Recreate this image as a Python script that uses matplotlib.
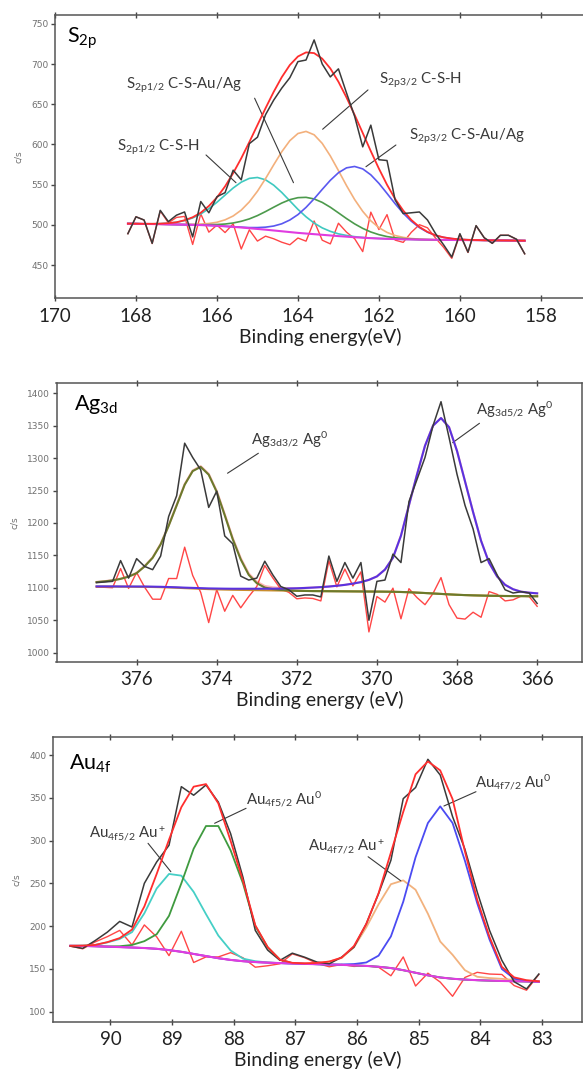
import matplotlib
matplotlib.use("Agg")
import matplotlib.pyplot as plt
import numpy as np

plt.rcParams["font.family"] = ["Lato", "DejaVu Sans"]
plt.rcParams["mathtext.fontset"] = "custom"
plt.rcParams["mathtext.rm"] = "Lato"
plt.rcParams["mathtext.it"] = "Lato:italic"
plt.rcParams["mathtext.bf"] = "Lato:bold"

# ---------------- S 2p ----------------
s_energy = [168.2, 168.0, 167.8, 167.6, 167.4, 167.2, 167.0, 166.8, 166.6, 166.4,
            166.2, 166.0, 165.8, 165.6, 165.4, 165.2, 165.0, 164.8, 164.6, 164.4,
            164.2, 164.0, 163.8, 163.6, 163.4, 163.2, 163.0, 162.8, 162.6, 162.4,
            162.2, 162.0, 161.8, 161.6, 161.4, 161.2, 161.0, 160.8, 160.6, 160.4,
            160.2, 160.0, 159.8, 159.6, 159.4, 159.2, 159.0, 158.8, 158.6, 158.4]
s_counts = [489, 510, 506, 477, 518, 504, 512, 516, 485, 529,
            515, 535, 540, 568, 556, 601, 609, 637, 655, 670,
            683, 703, 705, 730, 700, 684, 694, 664, 635, 597,
            624, 581, 580, 531, 514, 515, 516, 506, 489, 475,
            460, 489, 466, 499, 484, 477, 487, 487, 482, 464]
s_background = [501.5, 501.4, 501.2, 501.0, 500.8, 500.6, 500.4, 500.2, 500.0, 499.7,
                499.3, 498.8, 498.2, 497.5, 496.7, 495.8, 494.9, 494.0, 493.0, 492.0,
                491.0, 490.0, 489.2, 488.4, 487.6, 486.8, 486.0, 485.3, 484.6, 484.0,
                483.4, 483.0, 482.6, 482.3, 482.0, 481.8, 481.6, 481.5, 481.4, 481.3,
                481.2, 481.1, 481.0, 480.9, 480.8, 480.7, 480.6, 480.5, 480.4, 480.3]
# component intensities above the background
s_2p12_csh = [0, 0, 0.1, 0.3, 0.7, 1.5, 2.8, 5.1, 8.6, 13.8,
              20.8, 29.3, 38.8, 48.3, 56.4, 62.0, 64.0, 62.0, 56.4, 48.3,
              38.8, 29.3, 20.8, 13.8, 8.6, 5.1, 2.8, 1.5, 0.7, 0.3,
              0.1] + [0] * 19
s_2p32_csh = [0] * 7 + [0.3, 0.6, 1.2, 2.4, 4.4, 8.0, 13.5, 21.6, 32.8, 46.9,
                        63.5, 81.5, 98.9, 113.7, 123.6, 127.0, 123.6, 113.7, 98.9, 81.5,
                        63.5, 46.9, 32.8, 21.6, 13.5, 8.0, 4.4, 2.4, 1.2, 0.6,
                        0.3] + [0] * 12
s_2p12_csau = [0] * 7 + [0.1, 0.2, 0.4, 0.9, 1.6, 2.8, 4.8, 7.7, 11.6, 16.6,
                         22.5, 28.9, 35.1, 40.3, 43.8, 45.0, 43.8, 40.3, 35.1, 28.9,
                         22.5, 16.6, 11.6, 7.7, 4.8, 2.8, 1.6, 0.9, 0.4, 0.2,
                         0.1] + [0] * 12
s_2p32_csau = [0] * 13 + [0.2, 0.4, 0.8, 1.7, 3.1, 5.5, 9.3, 15.0, 22.7, 32.5,
                          44.0, 56.5, 68.6, 78.8, 85.6, 88.0, 85.6, 78.8, 68.6, 56.5,
                          44.0, 32.5, 22.7, 15.0, 9.3, 5.5, 3.1, 1.7, 0.8, 0.4,
                          0.2] + [0] * 6

# ---------------- Ag 3d ----------------
ag_energy = [377.0, 376.8, 376.6, 376.4, 376.2, 376.0, 375.8, 375.6, 375.4, 375.2,
             375.0, 374.8, 374.6, 374.4, 374.2, 374.0, 373.8, 373.6, 373.4, 373.2,
             373.0, 372.8, 372.6, 372.4, 372.2, 372.0, 371.8, 371.6, 371.4, 371.2,
             371.0, 370.8, 370.6, 370.4, 370.2, 370.0, 369.8, 369.6, 369.4, 369.2,
             369.0, 368.8, 368.6, 368.4, 368.2, 368.0, 367.8, 367.6, 367.4, 367.2,
             367.0, 366.8, 366.6, 366.4, 366.2, 366.0]
ag_counts = [1108, 1109, 1110, 1142, 1115, 1145, 1133, 1128, 1149, 1210,
             1242, 1323, 1301, 1282, 1224, 1249, 1180, 1168, 1118, 1112,
             1115, 1141, 1120, 1102, 1097, 1087, 1089, 1089, 1086, 1149,
             1110, 1139, 1115, 1139, 1050, 1110, 1112, 1152, 1139, 1233,
             1267, 1301, 1350, 1387, 1332, 1275, 1227, 1191, 1139, 1145,
             1120, 1097, 1092, 1094, 1092, 1076]
ag_background = [1102.0, 1102.0, 1101.9, 1101.8, 1101.7, 1101.6, 1101.5, 1101.3, 1101.0, 1100.6,
                 1100.1, 1099.5, 1099.0, 1098.5, 1098.0, 1097.6, 1097.3, 1097.0, 1096.8, 1096.6,
                 1096.4, 1096.2, 1096.0, 1095.8, 1095.6, 1095.4, 1095.2, 1095.0, 1094.9, 1094.8,
                 1094.7, 1094.6, 1094.5, 1094.4, 1094.3, 1094.2, 1094.1, 1093.9, 1093.6, 1093.2,
                 1092.6, 1092.0, 1091.3, 1090.6, 1089.9, 1089.3, 1088.8, 1088.4, 1088.1, 1087.8,
                 1087.6, 1087.4, 1087.3, 1087.2, 1087.1, 1087.0]
ag_3d32 = [6.8, 8.0, 9.5, 12.0, 15.5, 21.0, 31.5, 45.0, 66.0, 95.0,
           127.0, 159.5, 181.0, 188.0, 176.5, 150.4, 114.7, 78.0, 47.0, 23.4,
           10.8, 4.2, 2.0, 1.0, 0.5] + [0] * 31
ag_3d52 = [0.2, 0.2, 0.3, 0.3, 0.4, 0.4, 0.5, 0.5, 0.6, 0.6,
           0.7, 0.8, 0.9, 1.0, 1.1, 1.3, 1.4, 1.6, 1.8, 2.0,
           2.2, 2.4, 2.7, 3.0, 3.4, 3.9, 4.6, 5.4, 6.2, 7.2,
           8.5, 10.0, 12.0, 14.4, 18.0, 23.4, 34.0, 52.5, 86.8, 134.3,
           182.0, 227.0, 258.7, 271.2, 257.8, 221.7, 175.2, 128.6, 84.4, 50.8,
           30.0, 17.2, 10.5, 6.8, 5.4, 4.5]

# ---------------- Au 4f ----------------
au_energy = [90.65, 90.45, 90.25, 90.05, 89.85, 89.65, 89.45, 89.25, 89.05, 88.85,
             88.65, 88.45, 88.25, 88.05, 87.85, 87.65, 87.45, 87.25, 87.05, 86.85,
             86.65, 86.45, 86.25, 86.05, 85.85, 85.65, 85.45, 85.25, 85.05, 84.85,
             84.65, 84.45, 84.25, 84.05, 83.85, 83.65, 83.45, 83.25, 83.05]
au_counts = [176.6, 174, 183, 193, 205.5, 199, 250, 275, 294.5, 363,
             353, 365, 345, 308, 257, 195, 172, 160, 168.4, 163.7,
             158, 156, 163.7, 175.4, 202.7, 238, 277, 349, 362, 395,
             376.6, 328, 290, 240, 195, 160, 135, 126.6, 144]
au_background = [177.0, 176.8, 176.5, 176.0, 175.5, 175.0, 174.4, 173.5, 172.0, 170.0,
                 167.5, 165.0, 162.5, 160.5, 159.0, 158.0, 157.3, 156.8, 156.3, 155.9,
                 155.5, 155.1, 154.7, 154.2, 153.5, 152.5, 151.0, 148.5, 145.5, 142.5,
                 140.0, 138.5, 137.5, 136.8, 136.3, 135.9, 135.6, 135.3, 135.0]
au_4f52_ion = [0, 0.5, 1.5, 5.0, 9.5, 18.0, 40.6, 70.5, 89.0, 89.0,
               72.5, 49.0, 26.5, 11.0, 3.0, 1.0, 0.3] + [0] * 22
au_4f52_metal = [0, 0, 0, 0.3, 1.0, 3.0, 8.0, 17.0, 40.0, 80.0,
                 123.0, 152.0, 154.5, 128.0, 91.0, 42.0, 18.0, 4.0, 0.5] + [0] * 20
au_4f72_ion = [0] * 18 + [0.3, 0.6, 1.5, 3.5, 8.0, 21.0, 45.0, 73.0, 98.0, 105.0,
                          97.0, 72.0, 42.0, 28.0, 11.0, 4.0, 3.0, 2.5, 1.5, 1.0, 0.5]
au_4f72_metal = [0] * 22 + [0.5, 1.5, 4.0, 13.0, 37.0, 80.0, 135.0, 178.0, 200.0, 182.0,
                            139.0, 90.0, 48.0, 14.0, 3.0, 0.5, 0]

RAW = "#3a3a3a"
FIT = "#ff2e2e"
RES = "#ff4646"

W, H = 583, 1080
fig = plt.figure(figsize=(W / 100, H / 100), dpi=100)


def axes_px(left, top, right, bottom):
    return fig.add_axes([left / W, 1 - bottom / H, (right - left) / W, (bottom - top) / H])


def style(ax, xlim, ylim, xticks, yticks, xlabel):
    ax.set_xlim(*xlim)
    ax.set_ylim(*ylim)
    ax.set_xticks(xticks)
    ax.set_xticklabels([f"{t:g}" for t in xticks], fontsize=13.5, color="#222222")
    ax.set_yticks(yticks)
    ax.set_yticklabels([f"{t:g}" for t in yticks], fontsize=6.5, color="#707070",
                       family="DejaVu Sans")
    ax.tick_params(axis="x", which="both", top=True, direction="inout", length=4,
                   width=1.0, color="#444444", pad=5)
    ax.tick_params(axis="y", which="both", direction="out", length=3, width=1.0,
                   color="#444444", pad=1.5)
    for sp in ax.spines.values():
        sp.set_color("#555555")
        sp.set_linewidth(1.1)
    ax.set_xlabel(xlabel, fontsize=14, color="#222222", labelpad=2)
    ax.set_ylabel("c/s", fontsize=6.5, color="#707070", family="DejaVu Sans", labelpad=6)


def label(ax, text, xy_text, p0, p1, fs=10.8):
    ax.text(*xy_text, text, fontsize=fs, color="#3a3a3a", ha="left", va="center")
    ax.annotate("", xy=p1, xytext=p0,
                arrowprops=dict(arrowstyle="-", color="#3a3a3a", lw=0.8,
                                shrinkA=0, shrinkB=0))


# ---- S 2p panel ----
ax1 = axes_px(55, 15, 585, 298)
e = np.array(s_energy)
bg = np.array(s_background)
raw = np.array(s_counts)
comps = [(np.array(s_2p12_csh), "#3fc9c0"), (np.array(s_2p32_csh), "#f3b07c"),
         (np.array(s_2p12_csau), "#4c9a4c"), (np.array(s_2p32_csau), "#5a58f0")]
env = bg + sum(c for c, _ in comps)
ax1.plot(e, raw - env + bg, color=RES, lw=1.0, zorder=2)
for c, col in comps:
    ax1.plot(e, bg + c, color=col, lw=1.2, zorder=3)
ax1.plot(e, bg, color="#e03ce0", lw=1.5, zorder=4)
ax1.plot(e, env, color=FIT, lw=1.3, zorder=5)
ax1.plot(e, raw, color=RAW, lw=1.1, zorder=6)
style(ax1, (170, 156.91), (409, 761), [170, 168, 166, 164, 162, 160, 158],
      [450, 500, 550, 600, 650, 700, 750], "Binding energy(eV)")
ax1.text(0.023, 0.9035, r"S$_{\rm 2p}$", transform=ax1.transAxes, fontsize=15.5,
         color="black", va="baseline")
label(ax1, r"S$_{\rm 2p1/2}$ C-S-Au/Ag", (168.25, 673), (165.07, 657.5), (164.11, 552.4))
label(ax1, r"S$_{\rm 2p3/2}$ C-S-H", (162.0, 680), (162.27, 667.8), (163.39, 618.9))
label(ax1, r"S$_{\rm 2p3/2}$ C-S-Au/Ag", (161.26, 610), (161.58, 599.3), (162.32, 572.3))
label(ax1, r"S$_{\rm 2p1/2}$ C-S-H", (168.47, 596), (166.27, 586.9), (165.53, 552.4))

# ---- Ag 3d panel ----
ax2 = axes_px(56.5, 382.7, 582, 661.7)
e = np.array(ag_energy)
bg = np.array(ag_background)
raw = np.array(ag_counts)
g = np.array(ag_3d32)
b = np.array(ag_3d52)
env = bg + g + b
ax2.plot(e, raw - env + bg, color=RES, lw=1.0, zorder=2)
ax2.plot(e, bg, color="#c98d2e", lw=1.5, zorder=3)
ax2.plot(e, env, color=FIT, lw=1.6, alpha=0.35, zorder=4)
ax2.plot(e, bg + g, color="#6b7a2c", lw=1.5, zorder=5)
ax2.plot(e, bg + b, color="#5a32e0", lw=1.5, zorder=5)
ax2.plot(e, raw, color=RAW, lw=1.1, zorder=6)
style(ax2, (378.0, 364.88), (986.1, 1416.3), [376, 374, 372, 370, 368, 366],
      [1000, 1050, 1100, 1150, 1200, 1250, 1300, 1350, 1400], "Binding energy (eV)")
ax2.text(0.034, 0.902, r"Ag$_{\rm 3d}$", transform=ax2.transAxes, fontsize=15.5,
         color="black", va="baseline")
label(ax2, r"Ag$_{\rm 3d3/2}$ Ag$^{\rm 0}$", (373.15, 1328), (372.96, 1307.5), (373.73, 1276.7))
label(ax2, r"Ag$_{\rm 3d5/2}$ Ag$^{\rm 0}$", (367.53, 1374), (367.44, 1353.7), (368.11, 1323.8))

# ---- Au 4f panel ----
ax3 = axes_px(52.5, 736.7, 582, 1021.7)
e = np.array(au_energy)
bg = np.array(au_background)
raw = np.array(au_counts)
comps = [(np.array(au_4f52_ion), "#45cfc6"), (np.array(au_4f52_metal), "#3f9a3f"),
         (np.array(au_4f72_ion), "#f2b27e"), (np.array(au_4f72_metal), "#4b4bf2")]
env = bg + sum(c for c, _ in comps)
ax3.plot(e, raw - env + bg, color=RES, lw=1.0, zorder=2)
for c, col in comps:
    ax3.plot(e, bg + c, color=col, lw=1.3, zorder=3)
ax3.plot(e, bg, color="#e03ce0", lw=1.5, zorder=4)
ax3.plot(e, raw, color=RAW, lw=1.1, zorder=5)
ax3.plot(e, env, color=FIT, lw=1.3, zorder=6)
style(ax3, (90.94, 82.35), (88.3, 421.4), [90, 89, 88, 87, 86, 85, 84, 83],
      [100, 150, 200, 250, 300, 350, 400], "Binding energy (eV)")
ax3.text(0.031, 0.883, r"Au$_{\rm 4f}$", transform=ax3.transAxes, fontsize=15.5,
         color="black", va="baseline")
label(ax3, r"Au$_{\rm 4f5/2}$ Au$^{\rm +}$", (90.35, 308.5), (89.39, 296.8), (89.02, 263.6))
label(ax3, r"Au$_{\rm 4f5/2}$ Au$^{\rm 0}$", (87.8, 348.6), (87.80, 337.7), (88.31, 320.2))
label(ax3, r"Au$_{\rm 4f7/2}$ Au$^{\rm +}$", (86.79, 292.9), (85.82, 281.1), (85.29, 253.0))
label(ax3, r"Au$_{\rm 4f7/2}$ Au$^{\rm 0}$", (84.09, 368.8), (84.07, 357.1), (84.59, 340.4))

fig.savefig("out.png", dpi=100)
